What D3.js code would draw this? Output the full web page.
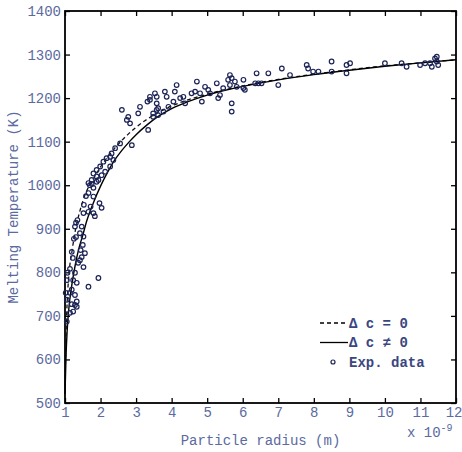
<!DOCTYPE html>
<html><head><meta charset="utf-8">
<script src="https://cdn.jsdelivr.net/npm/d3@7"></script>
<style>
body{margin:0;background:#fff;}
svg text{font-family:"Liberation Mono","DejaVu Sans Mono",monospace;}
</style></head>
<body><svg id="c" width="462" height="452"></svg>
<script>
// Axis ticks
const xTicks = [1,2,3,4,5,6,7,8,9,10,11,12];
const yTicks = [500,600,700,800,900,1000,1100,1200,1300,1400];

// Model curves
const solidR = [1.0,1.03,1.06,1.1,1.2,1.3,1.4,1.5,1.6,1.8,2.0,2.2,2.4,2.6,2.8,3.0,3.3,3.6,4.0,4.5,5.0,5.5,6.0,7,8,9,10,11,12];
const solidT = [520,610,665,710,775,822,858,885,915,960,998,1030,1058,1080,1099,1116,1138,1157,1176,1193,1207,1218,1227,1242,1254,1264,1273,1281,1288];
const dashR = [1.0,1.03,1.06,1.1,1.2,1.3,1.4,1.5,1.6,1.8,2.0,2.2,2.4,2.6,2.8,3.0,3.3,3.6,4.0,4.5,5.0,6.0,7,8,9,10,11,12];
const dashT = [540,660,730,785,850,900,935,963,985,1015,1042,1065,1085,1103,1119,1133,1151,1166,1182,1197,1209,1228,1243,1255,1265,1274,1281,1288];

// Experimental data
const expR = [1.75,1.89,1.80,1.66,1.59,1.80,1.53,1.72,1.97,2.03,1.80,1.84,1.66,1.35,1.31,1.47,1.42,1.31,1.52,1.25,1.50,1.44,1.19,1.22,1.42,1.47,1.37,1.52,1.14,1.07,1.28,1.94,1.05,1.23,1.33,1.66,1.02,1.14,1.28,1.33,1.19,1.05,
 1.66,1.52,1.28,1.56,1.19,1.33,1.14,1.23,1.05,1.28,
 2.60,2.78,3.11,3.06,3.32,3.39,3.58,3.34,2.83,2.88,2.74,3.58,3.62,3.48,2.55,2.41,2.31,2.27,2.17,2.08,1.99,1.89,1.80,1.75,1.70,2.03,2.13,2.27,2.36,1.89,1.94,
 3.39,3.53,3.81,3.86,4.14,4.09,3.58,3.62,3.48,3.77,3.91,4.05,4.24,4.33,4.71,4.66,4.80,4.85,4.94,5.03,5.08,5.27,5.36,5.31,5.45,5.64,5.59,5.64,5.69,5.69,5.78,5.83,6.06,4.56,4.38,5.69,
 6.02,6.02,6.35,6.44,6.53,6.39,6.72,7.00,7.10,7.33,7.80,7.84,7.98,8.13,8.50,8.50,8.92,8.92,
 9.02,10.00,10.47,10.61,10.99,11.13,11.27,11.41,11.46,11.32,11.50,11.46];
const expT = [1003,1008,994,982,975,974,955,951,959,948,936,929,939,920,914,905,890,881,882,877,863,851,847,833,828,835,822,812,808,799,799,787,782,782,776,767,753,753,748,733,727,737,
 1005,936,905,844,760,721,707,710,687,725,
 1173,1157,1180,1165,1192,1196,1203,1127,1142,1092,1150,1173,1161,1165,1096,1085,1073,1065,1062,1054,1043,1035,1027,1012,1000,1023,1031,1043,1058,1020,1012,
 1203,1211,1215,1203,1230,1215,1188,1177,1157,1169,1180,1192,1200,1203,1238,1215,1211,1192,1226,1219,1211,1234,1207,1200,1223,1253,1242,1230,1188,1169,1238,1226,1219,1211,1188,1246,
 1242,1223,1234,1234,1234,1257,1257,1230,1268,1253,1276,1268,1261,1261,1284,1261,1276,1257,
 1280,1280,1280,1272,1276,1280,1280,1291,1284,1272,1276,1295];

const W = 462, H = 452;
const m = {l:65, r:456, t:11, b:403};
const svg = d3.select("#c");
const x = d3.scaleLinear().domain([1,12]).range([m.l, m.r]);
const y = d3.scaleLinear().domain([500,1400]).range([m.b, m.t]);

const labelColor = "#5b6aa0";
const tickLen = 5;

// Axes with inward ticks
function styleAxis(g){
  g.select(".domain").remove();
  g.selectAll(".tick line").attr("stroke","#000").attr("stroke-width",1.3);
  g.selectAll(".tick text").attr("fill",labelColor).attr("font-size","14px")
   .attr("font-family","Liberation Mono, monospace");
}
const xb = svg.append("g").attr("transform",`translate(0,${m.b})`)
  .call(d3.axisBottom(x).tickValues(xTicks).tickFormat(d3.format("d")).tickSizeInner(-tickLen).tickSizeOuter(0).tickPadding(4))
  .call(styleAxis);
// keep the last label inside the picture
xb.selectAll(".tick text").filter(d=>d===12).attr("text-anchor","end").attr("x",6);
svg.append("g").attr("transform",`translate(0,${m.t})`)
  .call(d3.axisTop(x).tickValues(xTicks).tickFormat("").tickSizeInner(-tickLen).tickSizeOuter(0))
  .call(styleAxis);
svg.append("g").attr("transform",`translate(${m.l},0)`)
  .call(d3.axisLeft(y).tickValues(yTicks).tickFormat(d3.format("d")).tickSizeInner(-tickLen).tickSizeOuter(0).tickPadding(4))
  .call(styleAxis);
svg.append("g").attr("transform",`translate(${m.r},0)`)
  .call(d3.axisRight(y).tickValues(yTicks).tickFormat("").tickSizeInner(-tickLen).tickSizeOuter(0))
  .call(styleAxis);

// Frame
svg.append("rect").attr("x",m.l).attr("y",m.t).attr("width",m.r-m.l).attr("height",m.b-m.t)
  .attr("fill","none").attr("stroke","#000").attr("stroke-width",1.8);

// Curves
const line = d3.line().x(d=>x(d[0])).y(d=>y(d[1])).curve(d3.curveMonotoneX);
svg.append("path").datum(dashR.map((r,i)=>[r,dashT[i]]))
  .attr("d",line).attr("fill","none").attr("stroke","#111").attr("stroke-width",1.3).attr("stroke-dasharray","4,3");
svg.append("path").datum(solidR.map((r,i)=>[r,solidT[i]]))
  .attr("d",line).attr("fill","none").attr("stroke","#000").attr("stroke-width",1.4);

// Points
svg.append("g").selectAll("circle").data(expR.map((r,i)=>[r,expT[i]])).join("circle")
  .attr("cx",d=>x(d[0])).attr("cy",d=>y(d[1])).attr("r",2.3)
  .attr("fill","none").attr("stroke","#1c2456").attr("stroke-width",1.2);

// Axis titles
svg.append("text").attr("x",(m.l+m.r)/2).attr("y",445).attr("text-anchor","middle")
  .attr("fill",labelColor).attr("font-size","14px").text("Particle radius (m)");
svg.append("text").attr("transform",`translate(18,${(m.t+m.b)/2}) rotate(-90)`).attr("text-anchor","middle")
  .attr("fill",labelColor).attr("font-size","14px").text("Melting Temperature (K)");
const sx = svg.append("text").attr("x",407).attr("y",437).attr("fill",labelColor).attr("font-size","14px");
sx.append("tspan").text("x 10");
sx.append("tspan").attr("dy",-6).attr("font-size","10px").text("-9");

// Legend
const lg = svg.append("g");
const legendItems = ["dash","solid","pts"];
const legendText = ["\u0394 c = 0","\u0394 c \u2260 0","Exp. data"];
legendItems.forEach((k,i)=>{
  const yy = 323 + i*19.5;
  if(k==="pts"){
    lg.append("circle").attr("cx",333).attr("cy",yy).attr("r",2).attr("fill","none").attr("stroke","#1c2456").attr("stroke-width",1.2);
  } else {
    lg.append("line").attr("x1",320).attr("x2",348).attr("y1",yy).attr("y2",yy).attr("stroke","#000")
      .attr("stroke-width",1.3).attr("stroke-dasharray",k==="dash"?"4,3":null);
  }
  lg.append("text").attr("x",349).attr("y",yy+4.5).attr("fill","#3a4680").attr("font-size","14px")
    .attr("font-weight","bold").style("white-space","pre").text(legendText[i]);
});
</script></body></html>
